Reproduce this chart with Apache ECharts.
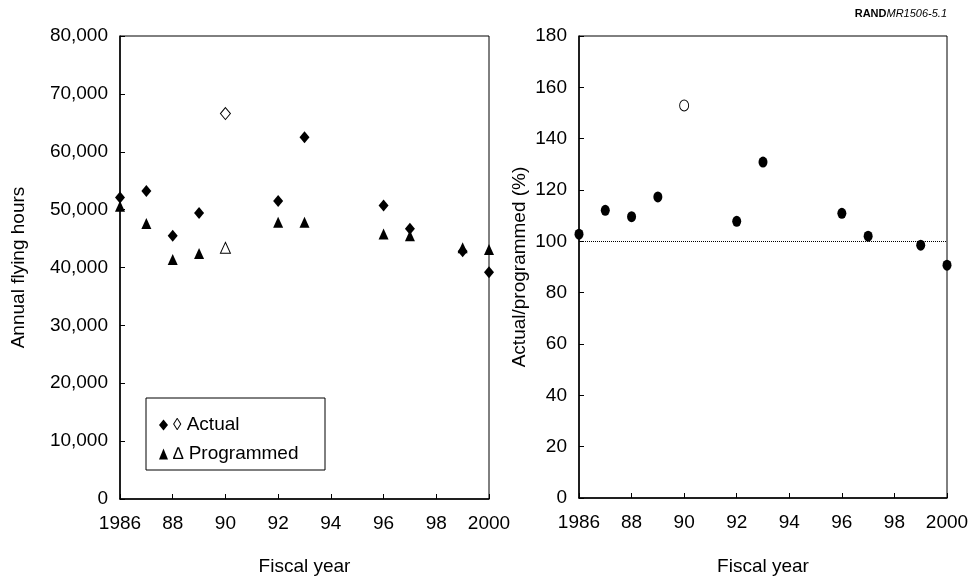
<!DOCTYPE html>
<html>
<head>
<meta charset="utf-8">
<script src="https://cdn.jsdelivr.net/npm/echarts@6/dist/echarts.min.js"></script>
<style>html,body{margin:0;padding:0;background:#fff}#c{width:973px;height:581px}</style>
</head>
<body>
<div id="c"></div>
<script>
const years = [1986, 1987, 1988, 1989, 1990, 1992, 1993, 1996, 1997, 1999, 2000];
const actualHours = [52100, 53200, 45500, 49400, 66600, 51500, 62500, 50700, 46700, 42800, 39200];
const programmedHours = [50600, 47600, 41400, 42400, 43400, 47800, 47800, 45800, 45500, 43400, 43100];
const ratioPct = [102.8, 112.1, 109.6, 117.3, 152.9, 107.8, 130.9, 110.9, 102.0, 98.5, 90.7];
const hollowYears = [1990];

const FONT = "'Liberation Sans', Arial, sans-serif";
const chart = echarts.init(document.getElementById('c'), null, {renderer: 'canvas'});

function pts(vals) {
  return years.map((y, i) => {
    const d = {value: [y, vals[i]]};
    if (hollowYears.includes(y)) d.itemStyle = {color: '#fff', borderColor: '#000', borderWidth: 1, opacity: 1};
    return d;
  });
}
const ellipse = 'path://M0,-1A1,1 0 1,1 0,1A1,1 0 1,1 0,-1Z';

function xAxis(gi, gap) {
  return {
    type: 'value', gridIndex: gi, min: 1986, max: 2000, interval: 2,
    name: 'Fiscal year', nameLocation: 'middle', nameGap: gap,
    nameTextStyle: {fontFamily: FONT, fontSize: 19, color: '#000'},
    axisLine: {lineStyle: {color: '#000', width: 1.5}},
    axisTick: {inside: true, length: 5, lineStyle: {color: '#000'}},
    splitLine: {show: false},
    axisLabel: {
      fontFamily: FONT, fontSize: 19, color: '#000', margin: 15,
      formatter: v => (v === 1986 || v === 2000) ? String(v) : String(v).slice(2)
    }
  };
}

const option = {
  animation: false,
  backgroundColor: '#fff',
  grid: [
    {left: 120, top: 36, width: 369, height: 464, show: true, borderColor: '#000', borderWidth: 1},
    {left: 579, top: 36, width: 368, height: 463, show: true, borderColor: '#000', borderWidth: 1}
  ],
  xAxis: [xAxis(0, 58), xAxis(1, 59)],
  yAxis: [
    {
      type: 'value', gridIndex: 0, min: 0, max: 80000, interval: 10000,
      name: 'Annual flying hours', nameLocation: 'middle', nameGap: 92,
      nameTextStyle: {fontFamily: FONT, fontSize: 19, color: '#000'},
      axisLine: {show: true, lineStyle: {color: '#000', width: 1.5}},
      axisTick: {show: true, inside: true, length: 5, lineStyle: {color: '#000'}},
      splitLine: {show: false},
      axisLabel: {fontFamily: FONT, fontSize: 19, color: '#000', margin: 12,
        formatter: v => v.toLocaleString('en-US')}
    },
    {
      type: 'value', gridIndex: 1, min: 0, max: 180, interval: 20,
      name: 'Actual/programmed (%)', nameLocation: 'middle', nameGap: 50,
      nameTextStyle: {fontFamily: FONT, fontSize: 19, color: '#000'},
      axisLine: {show: true, lineStyle: {color: '#000', width: 1.5}},
      axisTick: {show: true, inside: true, length: 5, lineStyle: {color: '#000'}},
      splitLine: {show: false},
      axisLabel: {fontFamily: FONT, fontSize: 19, color: '#000', margin: 12}
    }
  ],
  legend: {
    show: true, orient: 'vertical', left: 154, top: 410,
    itemWidth: 9, itemHeight: 11, itemGap: 9,
    data: [{name: 'Actual', icon: 'diamond'}, {name: 'Programmed', icon: 'triangle'}],
    itemStyle: {color: '#000', opacity: 1},
    formatter: n => n === 'Actual' ? '{o|◊} Actual' : '{o|∆} Programmed',
    textStyle: {fontFamily: FONT, fontSize: 19, color: '#000', lineHeight: 20,
      rich: {o: {fontFamily: FONT, fontSize: 17, color: '#000', lineHeight: 20}}},
    selectedMode: false
  },
  graphic: [
    {type: 'rect', shape: {x: 146, y: 398, width: 179, height: 72},
      style: {fill: 'none', stroke: '#000', lineWidth: 1}, z: 100},
    {type: 'text', right: 26, top: 8, style: {
      text: '{b|RAND}{i|MR1506-5.1}',
      rich: {b: {fontFamily: FONT, fontSize: 11, fontWeight: 'bold', fill: '#000'},
             i: {fontFamily: FONT, fontSize: 11, fontStyle: 'italic', fill: '#000'}}
    }}
  ],
  series: [
    {name: 'Actual', type: 'scatter', xAxisIndex: 0, yAxisIndex: 0, symbol: 'diamond',
      symbolSize: [10, 12], itemStyle: {color: '#000', opacity: 1}, data: pts(actualHours), z: 3},
    {name: 'Programmed', type: 'scatter', xAxisIndex: 0, yAxisIndex: 0, symbol: 'triangle',
      symbolSize: [10, 11], itemStyle: {color: '#000', opacity: 1}, data: pts(programmedHours), z: 2},
    {name: 'Ratio', type: 'scatter', xAxisIndex: 1, yAxisIndex: 1, symbol: ellipse,
      symbolSize: [9, 11], itemStyle: {color: '#000', opacity: 1}, data: pts(ratioPct),
      markLine: {silent: true, symbol: 'none', label: {show: false},
        lineStyle: {color: '#000', type: 'dotted', width: 1, opacity: 1},
        data: [{yAxis: 100}]}}
  ]
};
chart.setOption(option);
</script>
</body>
</html>
